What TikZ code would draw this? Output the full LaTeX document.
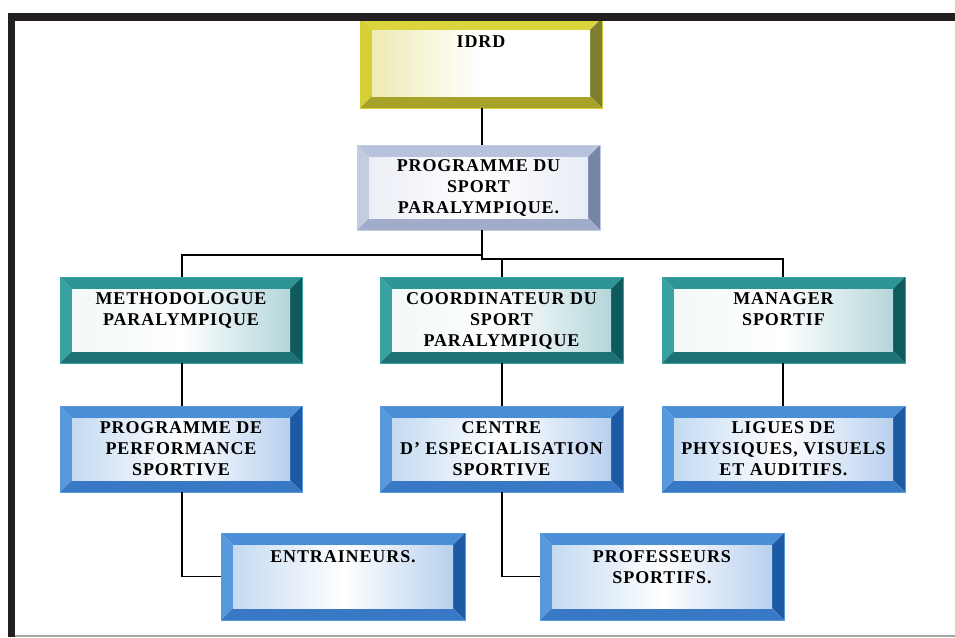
\documentclass[tikz,border=0pt]{standalone}
\usepackage{fontspec}
\setmainfont{Liberation Serif}
\newfontfamily\lblfont[LetterSpace=5]{Liberation Serif}
\usetikzlibrary{calc}
% yellow
\definecolor{Ytop}{HTML}{DCD43C}\definecolor{Yleft}{HTML}{D6D036}\definecolor{Yright}{HTML}{7E7E30}\definecolor{Ybot}{HTML}{A6A22A}\definecolor{YinL}{HTML}{EEEBB4}\definecolor{YinR}{HTML}{FFFFFF}
% lavender
\definecolor{Ltop}{HTML}{B8C2DC}\definecolor{Lleft}{HTML}{C4CCE2}\definecolor{Lright}{HTML}{7886A6}\definecolor{Lbot}{HTML}{A0ACCA}\definecolor{LinL}{HTML}{ECEEF6}\definecolor{LinR}{HTML}{E8ECF5}
% teal
\definecolor{Ttop}{HTML}{2E9494}\definecolor{Tleft}{HTML}{38A2A2}\definecolor{Tright}{HTML}{0E5A5C}\definecolor{Tbot}{HTML}{1C7274}\definecolor{TinL}{HTML}{F2F8F8}\definecolor{TinR}{HTML}{B4D6DA}
% blue
\definecolor{Btop}{HTML}{4A8ED8}\definecolor{Bleft}{HTML}{5898DC}\definecolor{Bright}{HTML}{1D5AA6}\definecolor{Bbot}{HTML}{3878C4}\definecolor{BinL}{HTML}{C4DAF2}\definecolor{BinR}{HTML}{B8D0EE}
\definecolor{framec}{HTML}{231F20}
\tikzset{
  bevbox/.style={rectangle, inner sep=0pt, minimum width=242pt, minimum height=86pt,
    draw=#1left, line width=0.6pt,
    path picture={
      \fill[#1top] let \p1=(path picture bounding box.south west), \p2=(path picture bounding box.north east) in
        (\x1,\y2) -- (\x2,\y2) -- (\x2-12pt,\y2-12pt) -- (\x1+12pt,\y2-12pt) -- cycle;
      \fill[#1left] let \p1=(path picture bounding box.south west), \p2=(path picture bounding box.north east) in
        (\x1,\y2) -- (\x1+12pt,\y2-12pt) -- (\x1+12pt,\y1+12pt) -- (\x1,\y1) -- cycle;
      \fill[#1right] let \p1=(path picture bounding box.south west), \p2=(path picture bounding box.north east) in
        (\x2,\y2) -- (\x2-12pt,\y2-12pt) -- (\x2-12pt,\y1+12pt) -- (\x2,\y1) -- cycle;
      \fill[#1bot] let \p1=(path picture bounding box.south west), \p2=(path picture bounding box.north east) in
        (\x1,\y1) -- (\x1+12pt,\y1+12pt) -- (\x2-12pt,\y1+12pt) -- (\x2,\y1) -- cycle;
      \shade[left color=#1inL, right color=#1inR, middle color=white] let \p1=(path picture bounding box.south west), \p2=(path picture bounding box.north east) in
        (\x1+12pt,\y1+12pt) rectangle (\x2-12pt,\y2-12pt);
    }},
  lbl/.style={anchor=north, inner sep=0pt, align=center, font=\lblfont\bfseries\fontsize{18}{21}\selectfont},
  conn/.style={draw=black, line width=1.4pt}
}
\begin{document}
\begin{tikzpicture}[x=1pt,y=-1pt]
\useasboundingbox (0,0) rectangle (955,637);
\fill[white] (0,0) rectangle (955,637);
% boxes
\node[bevbox=Y, minimum height=90pt] (idrd) at (481,63) {};
\node[bevbox=L, minimum width=243pt, minimum height=85pt] (prog) at (478.5,187.5) {};
\node[bevbox=T] (meth) at (181,320) {};
\node[bevbox=T, minimum width=243pt] (coord) at (501.5,320) {};
\node[bevbox=T, minimum width=243pt] (man) at (783.5,320) {};
\node[bevbox=B] (perf) at (181,449) {};
\node[bevbox=B, minimum width=243pt] (centre) at (501.5,449) {};
\node[bevbox=B, minimum width=243pt] (ligues) at (783.5,449) {};
\node[bevbox=B, minimum width=244pt, minimum height=87pt] (entr) at (343,576.5) {};
\node[bevbox=B, minimum width=244pt, minimum height=87pt] (prof) at (662,576.5) {};
% labels
\node[lbl] (tidrd) at ([yshift=-18pt]idrd.north) {IDRD};
\node[lbl] (tprog) at ([yshift=-15pt]prog.north) {PROGRAMME DU\\SPORT\\PARALYMPIQUE.};
\node[lbl] (tmeth) at ([yshift=-16pt]meth.north) {METHODOLOGUE\\PARALYMPIQUE};
\node[lbl] (tcoord) at ([yshift=-16pt]coord.north) {COORDINATEUR DU\\SPORT\\PARALYMPIQUE};
\node[lbl] (tman) at ([yshift=-16pt]man.north) {MANAGER\\SPORTIF};
\node[lbl] (tperf) at ([yshift=-16pt]perf.north) {PROGRAMME DE\\PERFORMANCE\\SPORTIVE};
\node[lbl] (tcentre) at ([yshift=-16pt]centre.north) {CENTRE\\D’ ESPECIALISATION\\SPORTIVE};
\node[lbl] (tligues) at ([yshift=-16pt]ligues.north) {LIGUES DE\\PHYSIQUES, VISUELS\\ET AUDITIFS.};
\node[lbl] (tentr) at ([yshift=-18pt]entr.north) {ENTRAINEURS.};
\node[lbl] (tprof) at ([yshift=-18pt]prof.north) {PROFESSEURS\\SPORTIFS.};
% bus coordinates
\coordinate (bM) at (482,255);
\coordinate (bM2) at (482,259);
\coordinate (bL) at (182,255);
\coordinate (bR) at (783,259);
\coordinate (bC) at (502,259);
% connectors
\draw[conn] (idrd.south -| bM) -- (prog.north -| bM);
\draw[conn] (prog.south -| bM) -- (bM2) -- (bR) -- (bR |- man.north);
\draw[conn] (bM) -- (bL) -- (bL |- meth.north);
\draw[conn] (bC) -- (bC |- coord.north);
\draw[conn] (meth.south -| bL) -- (perf.north -| bL);
\draw[conn] (coord.south -| bC) -- (centre.north -| bC);
\draw[conn] (man.south -| bR) -- (ligues.north -| bR);
\draw[conn] (perf.south -| bL) |- (entr.west);
\draw[conn] (centre.south -| bC) |- (prof.west);
% frame
\fill[framec] (8,13) rectangle (955,21);
\fill[framec] (8,13) rectangle (15,637);
\draw[gray!70, line width=1.5pt] (15,636) -- (955,636);
\end{tikzpicture}
\end{document}
